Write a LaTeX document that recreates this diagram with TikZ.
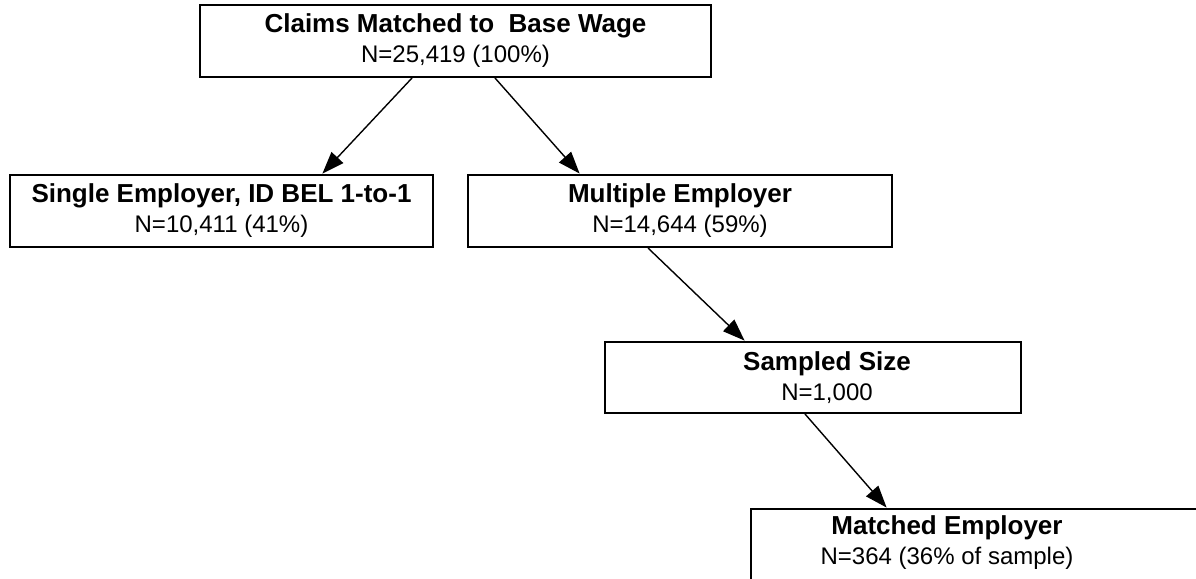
\documentclass[tikz,border=0pt]{standalone}
\usepackage{fontspec}
\setmainfont{Liberation Sans}
\usetikzlibrary{arrows.meta}
\tikzset{%
  box/.style={draw,line width=1pt,rectangle,inner sep=0pt,align=center,
    minimum height=#1,font=\fontsize{12}{15}\selectfont},
  box/.default=36pt,
  link/.style={-{Triangle[length=11pt,width=8pt]},line width=0.7pt,shorten >=0.3pt}
}
\NewDocumentCommand\boxtext{mm}{%
  {\bfseries\fontsize{13}{15}\selectfont #1}\\#2%
}

\begin{document}
\begin{tikzpicture}[x=0.5pt,y=-0.5pt]
  \useasboundingbox (0,0) rectangle (1196,579);
  \node[box,minimum width=255.5pt] (claims) at (455.5,41)
    {\boxtext{Claims Matched to\ \ Base Wage}{N=25,419 (100\%)}};
  \node[box,minimum width=211.5pt] (single) at (221.5,211)
    {\boxtext{Single Employer, ID BEL 1-to-1}{N=10,411 (41\%)}};
  \node[box,minimum width=212pt] (multi) at (680,211)
    {\boxtext{Multiple Employer}{N=14,644 (59\%)}};
  \node[box=35.5pt,minimum width=208pt] (sampled) at (813,377.5) {};
  \node[align=center,inner sep=0pt,font=\fontsize{12}{15}\selectfont] (sampledtxt) at (827,377.5)
    {\boxtext{Sampled Size}{N=1,000}};
  %%
  \begin{scope}
    \clip (0,0) rectangle (1196,579);
    \node[box=60pt,minimum width=300pt] (matched) at (1051,569) {};
  \end{scope}
  \node[align=center,inner sep=0pt,font=\fontsize{12}{15}\selectfont] (matchedtxt) at (947,543)
    {\boxtext{Matched Employer}{N=364 (36\% of sample)}};
  %%
  \draw[link] ([xshift=-21.75pt]claims.south) -- ([xshift=50.25pt]single.north);
  \draw[link] ([xshift=19.75pt]claims.south) -- ([xshift=-50pt]multi.north);
  \draw[link] ([xshift=-16pt]multi.south) -- ([xshift=-34pt]sampled.north);
  \draw[link] ([xshift=-4pt]sampled.south) -- ([xshift=-82pt]matched.north);
\end{tikzpicture}
\end{document}
